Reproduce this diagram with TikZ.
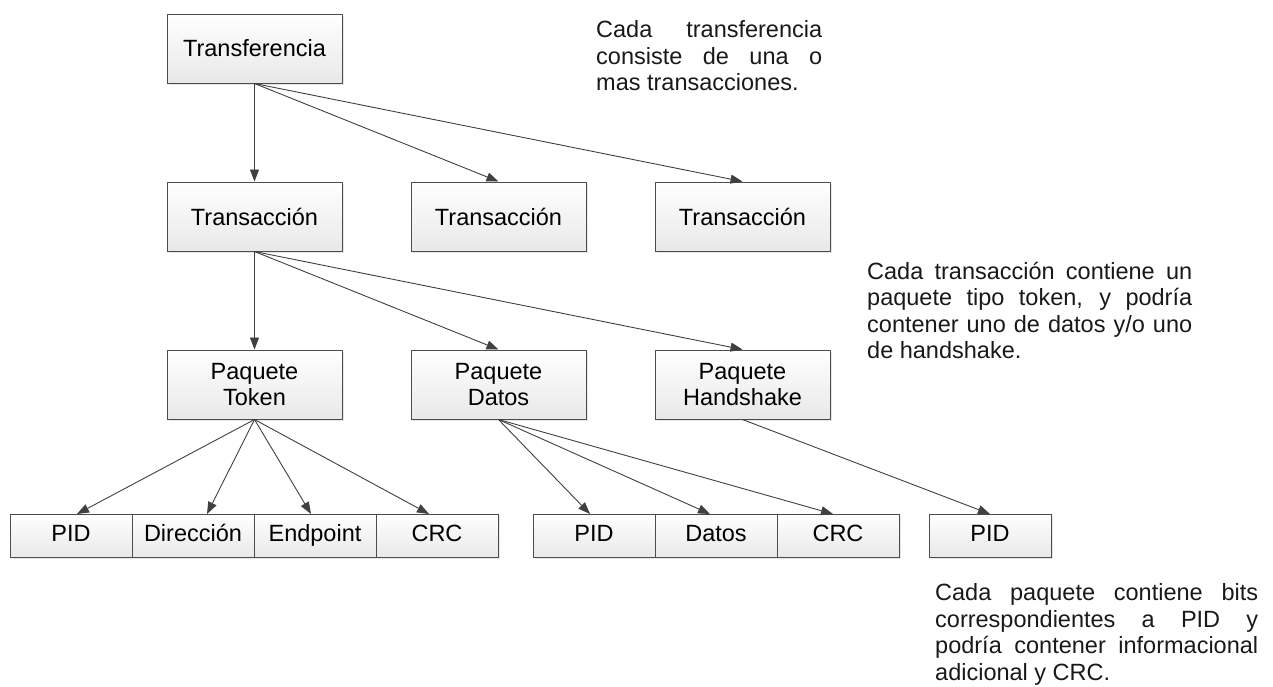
\documentclass[tikz,border=0pt]{standalone}
\usepackage{fontspec}
\setmainfont{Liberation Sans}
\usetikzlibrary{positioning,arrows.meta,shadows}

% one justified line of a side note
\newcommand{\jline}[2]{\makebox[#1][s]{#2}}

\begin{document}
\begin{tikzpicture}
    [x=1pt,y=-1pt,
     font=\fontsize{23.5}{26.5}\selectfont,
     b/.style={rectangle,draw=black!70,line width=1pt,
               top color=white,bottom color=black!9,
               minimum width=175pt,minimum height=69pt,align=center,
               drop shadow={opacity=0.2,shadow xshift=2pt,shadow yshift=-2pt}},
     f/.style={b,minimum width=122pt,minimum height=43pt,outer sep=0pt,
               text height=16.5pt,text depth=5pt},
     n/.style={inner sep=0pt,align=left,anchor=north west,text=black!90},
     arr/.style={color=black!75,line width=0.9pt,-{Triangle[length=12pt,width=9pt]}}]
    \useasboundingbox (0,0) rectangle (1273,686);

    % transferencia -> transacciones -> paquetes
    \node[b](tr) at (254.5,48.5) {Transferencia};
    \node[b](ta1)[below=98pt of tr]{Transacción};
    \node[b](ta2)[right=68pt of ta1]{Transacción};
    \node[b](ta3)[right=68pt of ta2]{Transacción};
    \node[b](pt)[below=98pt of ta1]{Paquete\\Token};
    \node[b](pd)[right=68pt of pt]{Paquete\\Datos};
    \node[b](ph)[right=68pt of pd]{Paquete\\Handshake};

    % campos de cada paquete
    \node[f](pid1) at (71,535.5) {PID};
    \node[f](dir)[right=0pt of pid1]{Dirección};
    \node[f](endp)[right=0pt of dir]{Endpoint};
    \node[f](crc1)[right=0pt of endp]{CRC};
    \node[f](pid2) at (594,535.5) {PID};
    \node[f](dat)[right=0pt of pid2]{Datos};
    \node[f](crc2)[right=0pt of dat]{CRC};
    \node[f](pid3) at (990,535.5) {PID};

    \path[arr](tr.south) edge (ta1.north)
                         edge (ta2.north)
                         edge (ta3.north);
    \path[arr](ta1.south) edge (pt.north)
                          edge (pd.north)
                          edge (ph.north);
    \path[arr](pt.south) edge ([xshift=6pt]pid1.north)
                         edge ([xshift=14pt]dir.north)
                         edge ([xshift=-4pt]endp.north)
                         edge ([xshift=-8pt]crc1.north)
             (pd.south) edge ([xshift=-4pt]pid2.north)
                         edge ([xshift=-6pt]dat.north)
                         edge ([xshift=-5pt]crc2.north)
             (ph.south) edge (pid3.north);

    % notas
    \node[n](n1) at (596,20.5) {\jline{226pt}{Cada transferencia}\\%
        \jline{226pt}{consiste de una o}\\%
        mas transacciones.};
    \node[n](n2) at (867,261.5) {\jline{325pt}{Cada transacción contiene un}\\%
        \jline{325pt}{paquete tipo token, y podría}\\%
        \jline{325pt}{contener uno de datos y/o uno}\\%
        de handshake.};
    \node[n](n3) at (935,583.5) {\jline{323pt}{Cada paquete contiene bits}\\%
        \jline{323pt}{correspondientes a PID y}\\%
        \jline{323pt}{podría contener informacional}\\%
        adicional y CRC.};
\end{tikzpicture}
\end{document}
